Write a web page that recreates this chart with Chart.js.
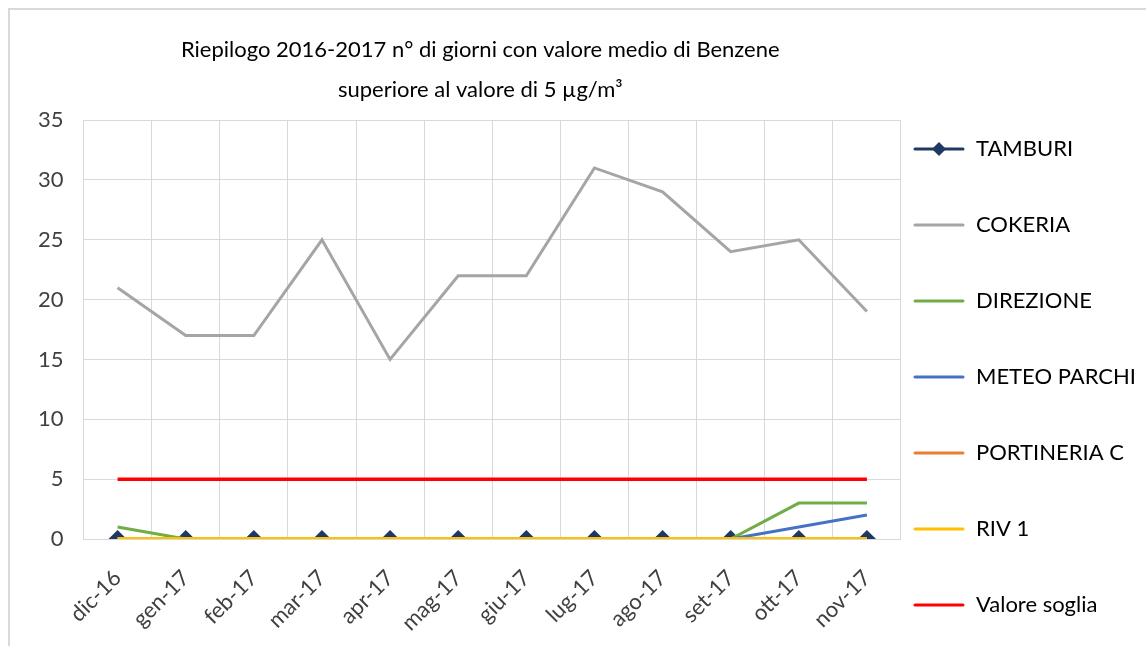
<!DOCTYPE html>
<html>
<head>
<meta charset="utf-8">
<script src="https://cdn.jsdelivr.net/npm/chart.js@4"></script>
<style>
  body { margin: 0; background: #fff; }
  #frame { position: absolute; left: 8px; top: 8px; border-left: 2px solid #d9d9d9; border-top: 2px solid #d9d9d9; }
  canvas { display: block; }
</style>
</head>
<body>
<div id="frame"><canvas id="benzeneChart" width="1136" height="636"></canvas></div>
<script>
// categorie (mesi)
const mesi = ['dic-16', 'gen-17', 'feb-17', 'mar-17', 'apr-17', 'mag-17', 'giu-17', 'lug-17', 'ago-17', 'set-17', 'ott-17', 'nov-17'];

// serie: n° di giorni sopra 5 µg/m3
const tamburi = [0, 0, 0, 0, 0, 0, 0, 0, 0, 0, 0, 0];
const cokeria = [21, 17, 17, 25, 15, 22, 22, 31, 29, 24, 25, 19];
const direzione = [1, 0, 0, 0, 0, 0, 0, 0, 0, 0, 3, 3];
const meteoParchi = [0, 0, 0, 0, 0, 0, 0, 0, 0, 0, 1, 2];
const portineriaC = [0, 0, 0, 0, 0, 0, 0, 0, 0, 0, 0, 0];
const riv1 = [0, 0, 0, 0, 0, 0, 0, 0, 0, 0, 0, 0];
const valoreSoglia = [5, 5, 5, 5, 5, 5, 5, 5, 5, 5, 5, 5];

// tick asse y
const yTicks = [0, 5, 10, 15, 20, 25, 30, 35];

const FONT = 'Lato, "Open Sans", sans-serif';

// icona legenda: linea (+ rombo per TAMBURI)
function legendIcon(color, diamond) {
    const c = document.createElement('canvas');
    c.width = 52; c.height = 16;
    const x = c.getContext('2d');
    x.strokeStyle = color; x.lineWidth = 3; x.lineCap = 'round';
    x.beginPath(); x.moveTo(2, 8); x.lineTo(50, 8); x.stroke();
    if (diamond) {
        x.fillStyle = color;
        x.beginPath(); x.moveTo(26, 1); x.lineTo(33, 8); x.lineTo(26, 15); x.lineTo(19, 8); x.closePath(); x.fill();
    }
    return c;
}

function serie(label, data, color, order, diamond, width) {
    return {
        label: label,
        data: data,
        borderColor: color,
        backgroundColor: color,
        borderWidth: width || 3,
        pointStyle: diamond ? 'rectRot' : 'circle',
        pointRadius: diamond ? 7 : 0,
        pointHoverRadius: diamond ? 7 : 0,
        pointBackgroundColor: color,
        pointBorderColor: color,
        tension: 0,
        order: order,
        legendIcon: legendIcon(color, diamond)
    };
}

// sposta legenda e titolo come nell'originale
const layoutTweak = {
    id: 'layoutTweak',
    afterLayout(chart) {
        chart.legend.top += 60;
        chart.legend.bottom += 60;
        chart.titleBlock.left -= 12;
        chart.titleBlock.right -= 12;
    }
};

const ctx = document.getElementById('benzeneChart').getContext('2d');
new Chart(ctx, {
    type: 'line',
    data: {
        labels: mesi,
        datasets: [
            serie('TAMBURI', tamburi, '#1f3864', 7, true),
            serie('COKERIA', cokeria, '#a5a5a5', 6),
            serie('DIREZIONE', direzione, '#70ad47', 5),
            serie('METEO PARCHI', meteoParchi, '#4472c4', 4),
            serie('PORTINERIA C', portineriaC, '#ed7d31', 3),
            serie('RIV 1', riv1, '#ffc000', 2, false, 4),
            serie('Valore soglia', valoreSoglia, '#ff0000', 1, false, 3.5)
        ]
    },
    plugins: [layoutTweak],
    options: {
        responsive: false,
        animation: false,
        layout: { padding: { left: 8, right: 0, top: 20, bottom: 0 } },
        plugins: {
            title: {
                display: true,
                fullSize: false,
                text: ['Riepilogo 2016-2017 n° di giorni con valore medio di Benzene', 'superiore al valore di 5 µg/m³'],
                color: '#000',
                font: { family: FONT, size: 22, weight: 'normal', lineHeight: 1.82 },
                padding: { top: 0, bottom: 10 }
            },
            legend: {
                position: 'right',
                labels: {
                    usePointStyle: true,
                    pointStyleWidth: 52,
                    padding: 12,
                    color: '#262626',
                    font: { family: FONT, size: 22, lineHeight: 64 / 22 },
                    sort: (a, b) => a.datasetIndex - b.datasetIndex,
                    // testo come array: l'altezza della voce segue il lineHeight
                    generateLabels: chart => chart.data.datasets.map((ds, i) => ({
                        text: [ds.label],
                        pointStyle: ds.legendIcon,
                        fillStyle: ds.borderColor,
                        strokeStyle: ds.borderColor,
                        lineWidth: 0,
                        hidden: false,
                        datasetIndex: i
                    }))
                }
            },
            tooltip: { enabled: false }
        },
        scales: {
            x: {
                offset: true,
                afterFit: scale => { scale.height = 107; },
                grid: { color: '#d9d9d9', offset: true, drawTicks: false },
                border: { color: '#d9d9d9' },
                ticks: {
                    color: '#404040',
                    font: { family: FONT, size: 22 },
                    maxRotation: 45,
                    minRotation: 45,
                    autoSkip: false,
                    padding: 26
                }
            },
            y: {
                min: 0,
                max: 35,
                afterBuildTicks: axis => { axis.ticks = yTicks.map(v => ({ value: v })); },
                grid: { color: '#d9d9d9', drawTicks: false },
                border: { color: '#d9d9d9' },
                ticks: {
                    color: '#404040',
                    font: { family: FONT, size: 22 },
                    padding: 20
                }
            }
        }
    }
});
</script>
</body>
</html>
